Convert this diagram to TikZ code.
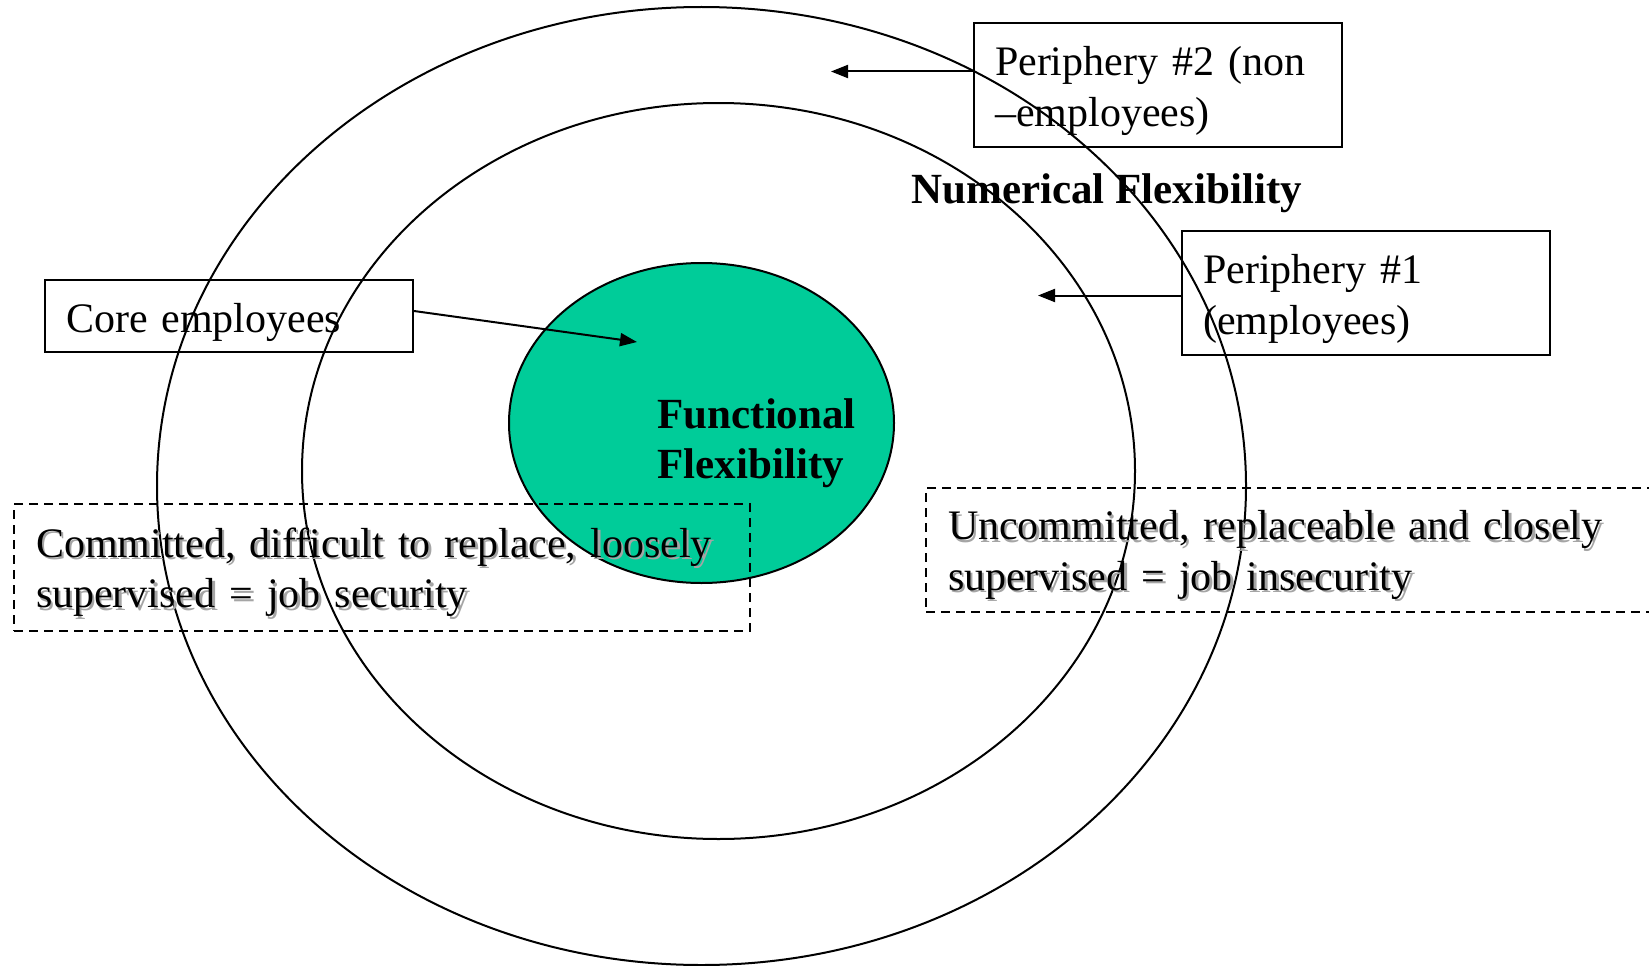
\documentclass[tikz,border=0pt]{standalone}
\usepackage{fontspec}
\setmainfont{Liberation Serif}
\usepackage{tikz}
\usetikzlibrary{shapes.geometric, arrows.meta, positioning}
\definecolor{coregreen}{RGB}{0, 204, 153}
\definecolor{shadowgray}{RGB}{165, 165, 165}
% one line of box text, set a little low; with or without a soft shadow
\newcommand{\lwline}[1]{\raisebox{-6pt}[\height][\depth]{#1}}
\newcommand{\shline}[1]{\lwline{\makebox[0pt][l]{\kern2.5pt\raisebox{-2.5pt}{\color{shadowgray}#1}}#1}}

\begin{document}
\begin{tikzpicture}[x=1pt, y=-1pt,
		ring/.style={ellipse, draw=black, line width=2pt, inner sep=0pt},
		lbox/.style={rectangle, draw=black, line width=2pt, inner xsep=21pt,
			text width=326pt, align=left, font=\fontsize{42}{50.5}\selectfont},
		dbox/.style={rectangle, draw=black, line width=2pt, dash pattern=on 9pt off 6pt,
			inner xsep=22pt, align=left, font=\fontsize{42}{50.5}\selectfont},
		title/.style={align=left, font=\fontsize{43}{50.5}\selectfont\bfseries},
		arr/.style={-{Triangle[length=17pt,width=13pt]}, line width=2pt}
		]
		\useasboundingbox (0,0) rectangle (1649,966);
		
		% Rings
		\node[ring, minimum width=1089pt, minimum height=958pt] (outer) at (701.5,486) {};
		\node[ring, minimum width=833pt, minimum height=736pt] (middle) at (718.5,471) {};
		\node[ring, fill=coregreen, minimum width=385pt, minimum height=320pt] (core) at (701.5,423) {};
		
		% Labels
		\node[title, anchor=west] (func) at (654,443) {Functional\\Flexibility};
		\node[title] (numer) at (1106.5,193) {Numerical Flexibility};
		
		% Boxes
		\node[lbox, minimum height=124pt] (peri2) at (1158,85) {\lwline{Periphery \#2 (non}\\\lwline{–employees)}};
		\node[lbox, minimum height=124pt] (peri1) at (1366,293) {\lwline{Periphery \#1}\\\lwline{(employees)}};
		\node[lbox, minimum height=72pt] (corebox) at (229,316) {\lwline{Core employees}};
		
		% Dashed notes
		\node[dbox, text width=692pt, minimum height=127pt, anchor=north west] (secure) at (13,503)
		{\shline{Committed, difficult to replace, loosely}\\\shline{supervised = job security}};
		\node[dbox, text width=754pt, minimum height=124pt, anchor=north west] (insecure) at (925,487)
		{\shline{Uncommitted, replaceable and closely}\\\shline{supervised = job insecurity}};
		
		% Arrows
		\coordinate (tip2) at (831,71.5);
		\coordinate (tip1) at (1038,295.5);
		\coordinate (tipc) at (637,342);
		\draw[arr] ([yshift=13.5pt]peri2.west) -- (tip2);
		\draw[arr] ([yshift=-2.5pt]peri1.west) -- (tip1);
		\draw[arr] ([yshift=5pt]corebox.east) -- (tipc);
	\end{tikzpicture}
\end{document}
